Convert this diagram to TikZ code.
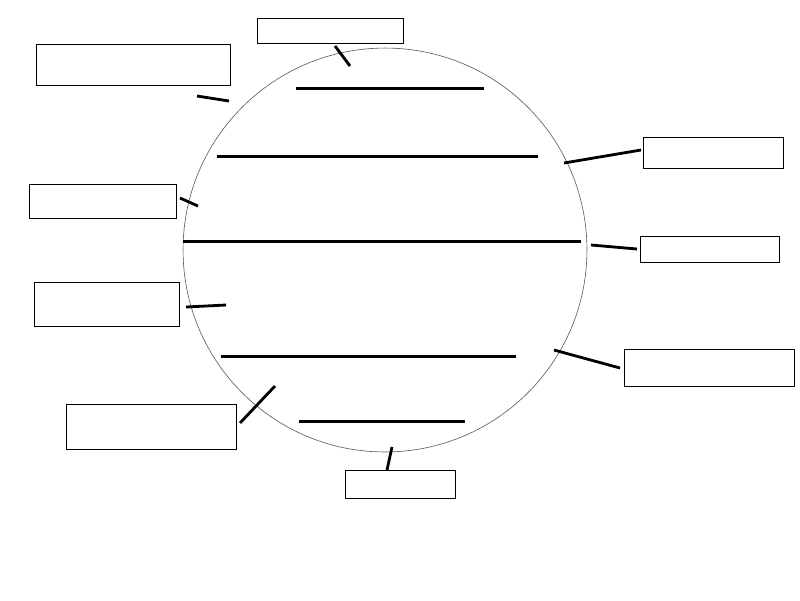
\documentclass[tikz,border=0pt]{standalone}
\usepackage{tikz}
\usetikzlibrary{positioning,calc}

\tikzset{
  labelbox/.style={draw, line width=0.6pt, anchor=north west, inner sep=0pt},
  leader/.style={line width=1.6pt},
  parallel/.style={line width=1.7pt}
}

\begin{document}
\begin{tikzpicture}[x=0.02cm, y=-0.02cm]
        \useasboundingbox (0,0) rectangle (800,600);

        % Globe
        \draw[gray!70!black, line width=0.35pt] (385,250) circle [radius=4.04cm];

        % Parallels
        \draw[parallel] (296,88) -- (484,88);
        \draw[parallel] (217,156) -- (538,156);
        \draw[parallel] (183,241) -- (581,241);
        \draw[parallel] (221,356) -- (516,356);
        \draw[parallel] (299,421) -- (465,421);

        % Label boxes
        \node[labelbox, minimum width=2.92cm, minimum height=0.5cm]  (top)      at (257.3,18.3) {};
        \node[labelbox, minimum width=3.88cm, minimum height=0.82cm] (upleft)   at (36,44.3) {};
        \node[labelbox, minimum width=2.8cm,  minimum height=0.62cm] (upright)  at (643.3,137.3) {};
        \node[labelbox, minimum width=2.94cm, minimum height=0.68cm] (midleft)  at (29.3,184.3) {};
        \node[labelbox, minimum width=2.78cm, minimum height=0.52cm] (midright) at (640,236.3) {};
        \node[labelbox, minimum width=2.9cm,  minimum height=0.88cm] (lowleft)  at (34.3,282.3) {};
        \node[labelbox, minimum width=3.4cm,  minimum height=0.74cm] (lowright) at (624,349.3) {};
        \node[labelbox, minimum width=3.4cm,  minimum height=0.9cm]  (botleft)  at (66.3,404.3) {};
        \node[labelbox, minimum width=2.2cm,  minimum height=0.56cm] (bottom)   at (345.3,470.3) {};

        % Leader ends
        \coordinate (top-a) at (335,46);       \coordinate (top-b) at (350,66);
        \coordinate (upleft-a) at (197,96);    \coordinate (upleft-b) at (229,101);
        \coordinate (upright-a) at (641,150);  \coordinate (upright-b) at (564,163);
        \coordinate (midleft-a) at (180,198);  \coordinate (midleft-b) at (198,206);
        \coordinate (midright-a) at (637,249); \coordinate (midright-b) at (591,245);
        \coordinate (lowleft-a) at (186,307);  \coordinate (lowleft-b) at (226,305);
        \coordinate (lowright-a) at (620,368); \coordinate (lowright-b) at (554,350);
        \coordinate (botleft-a) at (240,423);  \coordinate (botleft-b) at (275,386);
        \coordinate (bottom-a) at (387,470);   \coordinate (bottom-b) at (392,447);

        % Leaders
        \foreach \n in {top,upleft,upright,midleft,midright,lowleft,lowright,botleft,bottom}
          \draw[leader] (\n-a) -- (\n-b);
    \end{tikzpicture}
\end{document}
